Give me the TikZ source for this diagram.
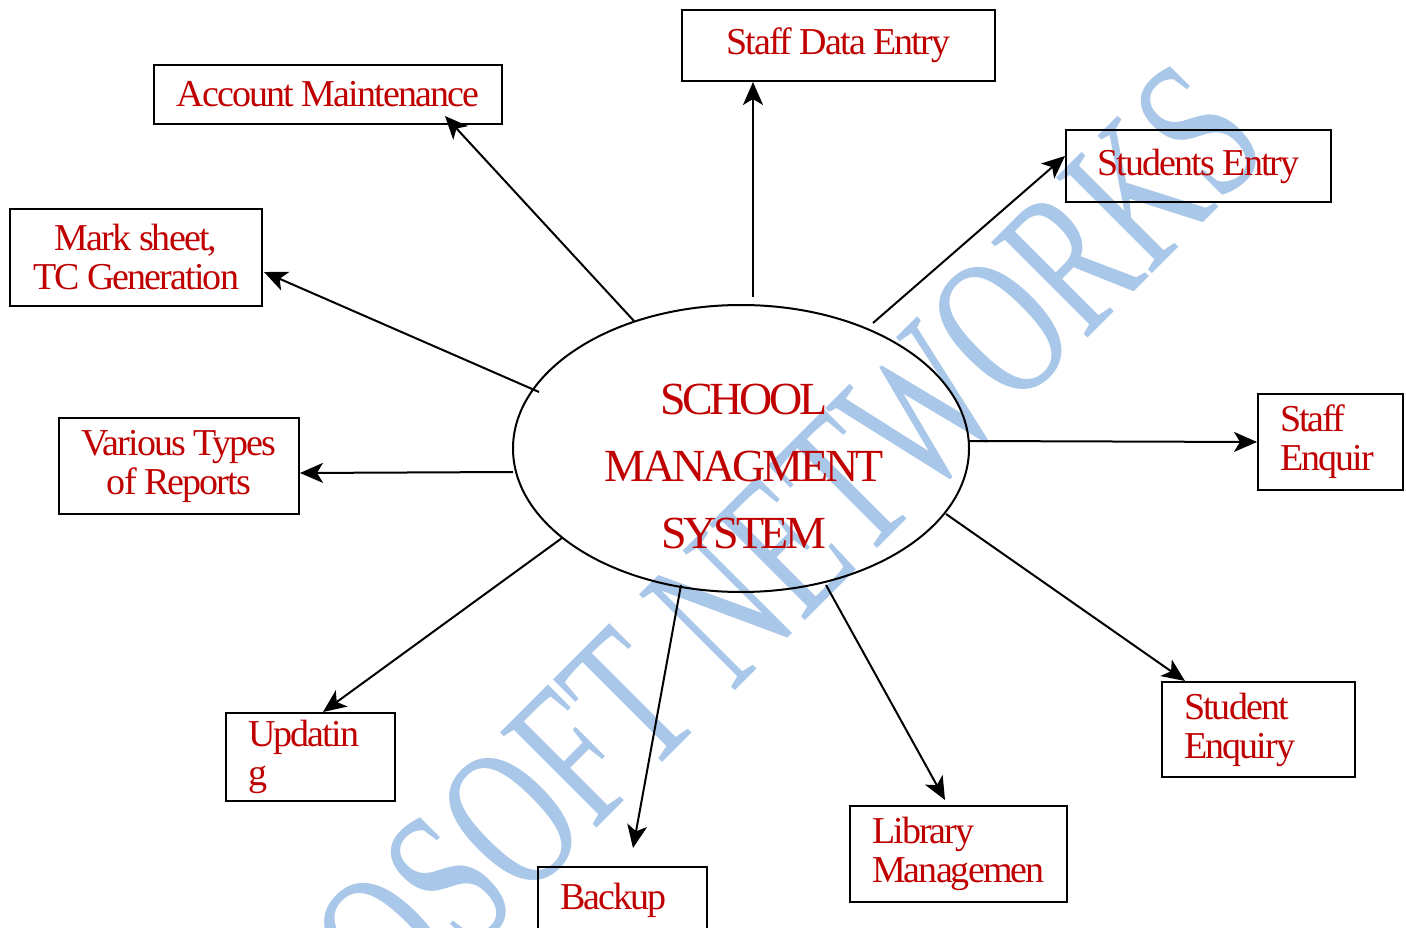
\documentclass[tikz,border=0pt]{standalone}
\usepackage{fontspec}
\setmainfont{Liberation Serif}
\newfontfamily\boxfont[LetterSpace=-5]{Liberation Serif}
\newfontfamily\sysfont[LetterSpace=-7]{Liberation Serif}
\newfontfamily\wmfont{Liberation Serif}
\usetikzlibrary{arrows.meta,calc,shapes.geometric}
\definecolor{txtred}{RGB}{192,0,0}
\definecolor{wmblue}{RGB}{169,199,232}
\tikzset{
  box/.style={draw, line width=2pt, inner sep=0pt, anchor=north west, text=txtred,
    font={\boxfont\fontsize{38}{39}\selectfont}, align=center},
  lbox/.style={box, inner xsep=22pt, align=left},
  arr/.style={draw, line width=2pt, -{Stealth[length=23pt, width=20pt, inset=6pt]}},
  wm/.style={text=wmblue, font={\wmfont\fontsize{138}{138}\selectfont}, rotate=45, yscale=1.5, inner sep=0pt},
}
\begin{document}
\begin{tikzpicture}[x=1pt,y=-1pt]
\useasboundingbox (0,0) rectangle (1406,928);
\clip (0,0) rectangle (1406,928);
\fill[white] (0,0) rectangle (1406,928);

% watermark
\node[wm] (wmark) at (789,542) {OSOFT NETWORKS};

% central ellipse
\node[ellipse, draw, line width=2pt, minimum width=456pt, minimum height=287pt, inner sep=0pt] (sys) at (741,448.5) {};
\node[text=txtred, font={\sysfont\fontsize{46}{67}\selectfont}, align=center] (systxt) at (744,466) {SCHOOL\\MANAGMENT\\SYSTEM};

% boxes
\node[box, minimum width=348pt, minimum height=59pt] (acc) at (153,64) {Account Maintenance};
\node[box, minimum width=313pt, minimum height=71pt] (sde) at (681,9) {Staff Data Entry};
\node[box, minimum width=265pt, minimum height=72pt] (se) at (1065,129) {Students Entry};
\node[box, minimum width=252pt, minimum height=97pt] (mark) at (9,208) {Mark sheet,\\TC Generation};
\node[box, minimum width=240pt, minimum height=96pt] (var) at (58,417) {Various Types\\of Reports};
\node[lbox, text width=101pt, minimum width=145pt, minimum height=96pt] (senq) at (1257,393) {Staff\\Enquir};
\node[lbox, text width=125pt, minimum width=169pt, minimum height=88pt] (upd) at (225,712) {Updatin\\g};
\node[lbox, text width=125pt, minimum width=169pt, minimum height=66pt] (bak) at (537,866) {Backup};
\node[lbox, text width=173pt, minimum width=217pt, minimum height=96pt] (lib) at (849,805) {Library\\Managemen};
\node[lbox, text width=149pt, minimum width=193pt, minimum height=95pt] (stenq) at (1161,681) {Student\\Enquiry};

% connectors
\draw[arr] ($(sys.center)+(-107,-127.5)$) -- ($(acc.south west)+(292,-9)$);
\draw[arr] ($(sys.center)+(12,-151.5)$) -- ($(sde.south west)+(72,0)$);
\draw[arr] ($(sys.center)+(132,-125.5)$) -- ($(se.west)+(0,-10)$);
\draw[arr] ($(sys.center)+(-202,-56.5)$) -- ($(mark.east)+(1,14.5)$);
\draw[arr] ($(sys.center)+(-228,23.5)$) -- ($(var.east)+(0,7)$);
\draw[arr] ($(sys.center)+(228,-7.5)$) -- (senq.west);
\draw[arr] ($(sys.center)+(205,65.5)$) -- ($(stenq.north west)+(24,0)$);
\draw[arr] ($(sys.center)+(85,136.5)$) -- ($(lib.north west)+(96,-5)$);
\draw[arr] ($(sys.center)+(-60,136.5)$) -- ($(bak.north west)+(96,-18)$);
\draw[arr] ($(sys.center)+(-179,89.5)$) -- ($(upd.north west)+(98,0)$);
\end{tikzpicture}
\end{document}
